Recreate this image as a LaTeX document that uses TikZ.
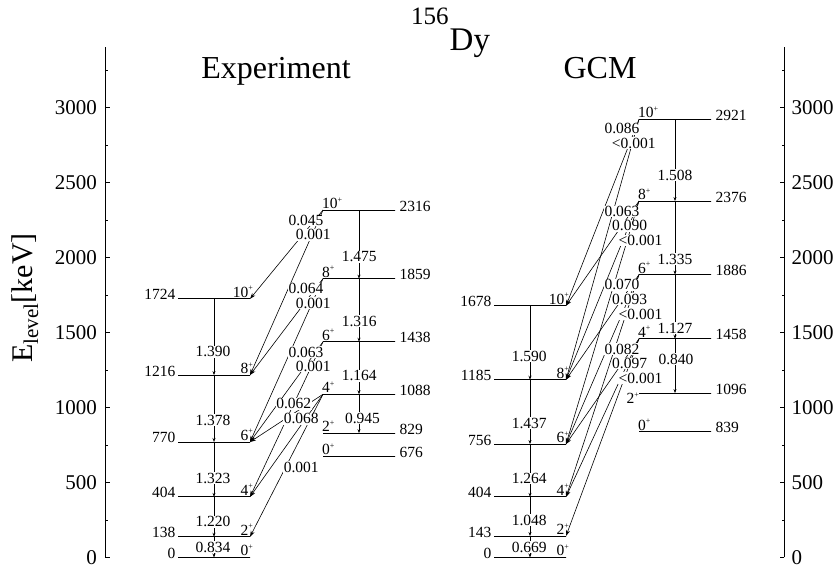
\documentclass[tikz,border=0pt]{standalone}
\usepackage{fontspec}
\setmainfont{Liberation Serif}
\usetikzlibrary{arrows.meta, calc}
\tikzset{
  level/.style={draw, line width=0.8pt, minimum width=72pt, minimum height=0pt,
                inner sep=0pt, outer sep=0pt},
  elab/.style={font=\fontsize{15.5}{16}\selectfont, inner sep=0pt},
  bval/.style={font=\fontsize{15.5}{16}\selectfont, fill=white, inner sep=0.6pt},
  band/.style={line width=0.6pt, -{Stealth[length=4pt, width=3pt]}},
  trans/.style={line width=0.6pt, -{Stealth[length=6pt, width=4pt]}},
  axis/.style={line width=0.8pt},
  tick/.style={font=\fontsize{21}{22}\selectfont, inner sep=0pt},
  head/.style={font=\fontsize{32}{34}\selectfont, inner sep=0pt},
}
\newcommand{\jp}[1]{#1\raisebox{6.5pt}{\fontsize{8}{8}\selectfont +}}

\begin{document}
\begin{tikzpicture}[x=1pt, y=0.15pt]
  \useasboundingbox (0,-76.7) rectangle (835,3716.7);

  % axes
  \draw[axis] (105,0) -- (105,3400);
  \draw[axis] (784,0) -- (784,3400);
  \foreach \en in {0,500,...,3000} {
    \draw[axis] (105,\en) -- ++(4.5pt,0);
    \draw[axis] (784,\en) -- ++(-4.5pt,0);
    \node[tick, anchor=east] (yl\en) at (97,\en) {\en};
    \node[tick, anchor=west] (yr\en) at (791.5,\en) {\en};
  }
  \foreach \en in {250,750,...,3250} {
    \draw[axis] (105,\en) -- ++(2.5pt,0);
    \draw[axis] (784,\en) -- ++(-2.5pt,0);
  }
  \node[head, font=\fontsize{30}{32}\selectfont, rotate=90, anchor=base] (ylab) at (32,1730) {E\textsubscript{level}[keV]};

  \node[anchor=base west, inner sep=0pt] (title) at (411,3383)
    {{\fontsize{25}{25}\selectfont\raisebox{26pt}{156}}\kern1pt{\fontsize{33}{34}\selectfont Dy}};
  \node[head, anchor=base] (exp) at (276,3195) {Experiment};
  \node[head, anchor=base] (gcm) at (600,3195) {GCM};

  % levels
  \foreach \n/\en in {0/0, 2/138, 4/404, 6/770, 8/1216, 10/1724} {
    \node[level] (expg\n) at (214,\en) {};
    \node[elab, anchor=base east] (expg\n-e) at ([shift={(-2.5pt,-1pt)}]expg\n.west) {\en};
    \node[elab, anchor=base east] (expg\n-j) at ([shift={(3pt,1.5pt)}]expg\n.east) {\jp{\n}};
  }
  \foreach \n/\en in {0/676, 2/829, 4/1088, 6/1438, 8/1859, 10/2316} {
    \node[level] (expy\n) at (359,\en) {};
    \node[elab, anchor=base west] (expy\n-e) at ([shift={(4.5pt,-1pt)}]expy\n.east) {\en};
    \node[elab, anchor=base west] (expy\n-j) at ([shift={(-1pt,1.5pt)}]expy\n.west) {\jp{\n}};
  }
  \foreach \n/\en in {0/0, 2/143, 4/404, 6/756, 8/1185, 10/1678} {
    \node[level] (gcmg\n) at (530,\en) {};
    \node[elab, anchor=base east] (gcmg\n-e) at ([shift={(-2.5pt,-1pt)}]gcmg\n.west) {\en};
    \node[elab, anchor=base east] (gcmg\n-j) at ([shift={(3pt,1.5pt)}]gcmg\n.east) {\jp{\n}};
  }
  \foreach \n/\en in {0/839, 2/1096, 4/1458, 6/1886, 8/2376, 10/2921} {
    \node[level] (gcmy\n) at (675,\en) {};
    \node[elab, anchor=base west] (gcmy\n-e) at ([shift={(4.5pt,-1pt)}]gcmy\n.east) {\en};
  }
  \foreach \n in {0,4,6,8,10}
    \node[elab, anchor=base west] (gcmy\n-j) at ([shift={(-1pt,1.5pt)}]gcmy\n.west) {\jp{\n}};
  \node[elab, anchor=base east] (gcmy2-j) at ([shift={(0pt,-10.5pt)}]gcmy2.west) {\jp{2}};

  % transitions
  \foreach \a/\b in {10/8, 8/6, 6/4, 4/2, 2/0} {
    \draw[band] (expg\a) -- (expg\b);
    \draw[band] (gcmg\a) -- (gcmg\b);
  }
  \foreach \a/\b in {10/8, 8/6, 6/4, 4/2} {
    \draw[band] (expy\a) -- (expy\b);
    \draw[band] (gcmy\a) -- (gcmy\b);
  }
  \foreach \a/\b in {10/10, 10/8, 8/8, 8/6, 6/6, 6/4, 4/6, 4/4, 4/2}
    \draw[trans] (expy\a.west) -- (expg\b.east);
  \foreach \a/\b in {10/10, 10/8, 8/10, 8/8, 8/6, 6/8, 6/6, 6/4, 4/6, 4/4, 4/2}
    \draw[trans] (gcmy\a.west) -- (gcmg\b.east);

  % B(E2) values
  \foreach \v/\en [count=\i] in {1.390/1372, 1.378/914.7, 1.323/528, 1.220/238.7, 0.834/68}
    \node[bval] (bexpg\i) at (213,\en) {\v};
  \foreach \v/\en [count=\i] in {1.475/2005, 1.316/1575, 1.164/1211}
    \node[bval] (bexpy\i) at (359.2,\en) {\v};
  \node[bval] (bexpy4) at (362.5,930) {0.945};
  \foreach \v/\en [count=\i] in {1.590/1341, 1.437/896.7, 1.264/525.6, 1.048/248, 0.669/68}
    \node[bval] (bgcmg\i) at (529.2,\en) {\v};
  \foreach \v/\en [count=\i] in {1.508/2548, 1.335/1990, 1.127/1528}
    \node[bval] (bgcmy\i) at (675,\en) {\v};
  \node[bval] (bgcmy4) at (676,1323) {0.840};

  \foreach \n/\a/\b in {10/0.045/0.001, 8/0.064/0.001, 6/0.063/0.001} {
    \node[bval] (expy\n-a) at ([shift={(-17pt,-10.3pt)}]expy\n.west) {\a};
    \node[bval] (expy\n-b) at ([shift={(-9.7pt,-24.7pt)}]expy\n.west) {\b};
  }
  \node[bval] (expy4-a) at ([shift={(-29.2pt,-9.4pt)}]expy4.west) {0.062};
  \node[bval] (expy4-b) at ([shift={(-21.8pt,-24.5pt)}]expy4.west) {0.068};
  \node[bval] (expy4-c) at ([shift={(-21.7pt,-72.9pt)}]expy4.west) {0.001};

  \node[bval] (gcmy10-a) at ([shift={(-17pt,-9.5pt)}]gcmy10.west) {0.086};
  \node[bval] (gcmy10-b) at ([shift={(-5.2pt,-24pt)}]gcmy10.west) {<0.001};
  \foreach \n/\a/\b in {8/0.063/0.090, 6/0.070/0.093, 4/0.082/0.097} {
    \node[bval] (gcmy\n-a) at ([shift={(-17pt,-10.3pt)}]gcmy\n.west) {\a};
    \node[bval] (gcmy\n-b) at ([shift={(-9.4pt,-24.7pt)}]gcmy\n.west) {\b};
    \node[bval] (gcmy\n-c) at ([shift={(1.5pt,-39.5pt)}]gcmy\n.west) {<0.001};
  }
\end{tikzpicture}
\end{document}
